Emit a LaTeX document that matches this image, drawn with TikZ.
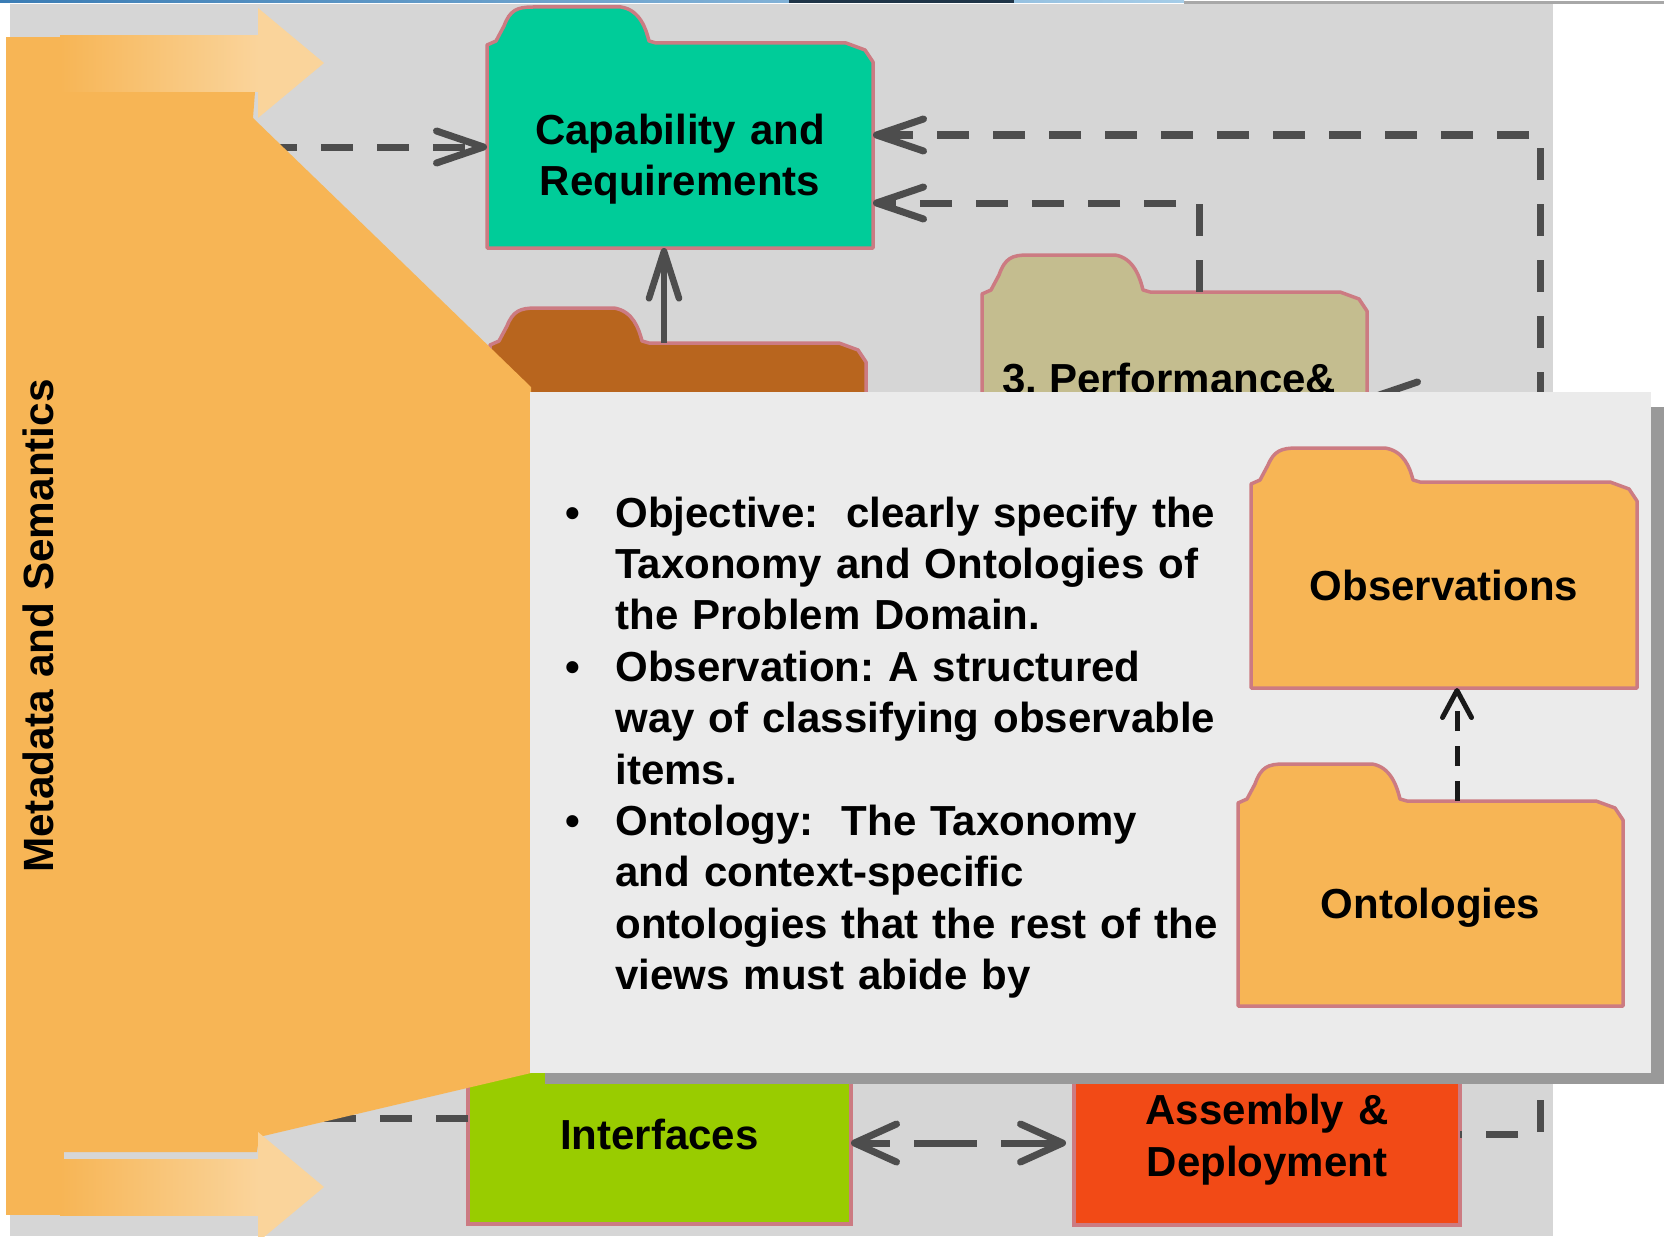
\documentclass[tikz,border=0pt]{standalone}
\usepackage{fontspec}
\setmainfont{Liberation Sans}
\usetikzlibrary{arrows.meta,calc}
\frenchspacing

\definecolor{bggray}{HTML}{D6D6D6}
\definecolor{panelgray}{HTML}{EBEBEB}
\definecolor{shadowgray}{HTML}{999999}
\definecolor{orng}{HTML}{F7B555}
\definecolor{orngl}{HTML}{FAD49B}
\definecolor{capteal}{HTML}{00CC99}
\definecolor{brownf}{HTML}{B8651E}
\definecolor{khakif}{HTML}{C4BD8F}
\definecolor{limef}{HTML}{99CC00}
\definecolor{redf}{HTML}{F24A16}
\definecolor{edgepink}{HTML}{CC7B82}
\definecolor{conngray}{HTML}{4D4D4D}
\definecolor{stripa}{HTML}{3B7DB5}
\definecolor{stripb}{HTML}{A6CDE8}
\definecolor{stripdark}{HTML}{1F3548}
\definecolor{stripgray}{HTML}{A8A8A8}

\newcommand{\lblfont}{\fontsize{21}{25.25}\selectfont\bfseries}
\newcommand{\asmfont}{\fontsize{21}{26.2}\selectfont\bfseries}
\newcommand{\bulletfont}{\fontsize{21}{25.7}\selectfont\bfseries}

% folder outline: #1 fill, #2 left x, #3 right x, #4 tab top y,
% #5 body top y, #6 bottom y, #7 tab right x
\newcommand{\folderoutline}[7]{%
  \draw[folderline, fill=#1] (#2,#6) -- (#2,{#5+2}) -- ({#2+9},{#5-2})
    -- ({#2+17},{#5-17})
    .. controls ({#2+23},{#4+3}) and ({#2+30},#4) .. ({#2+46},#4)
    -- ({#7-28},#4)
    .. controls ({#7-9},{#4+3}) and ({#7-3},{#5-14}) .. (#7,{#5-2})
    -- ({#7+7},#5) -- ({#3-27},#5) -- ({#3-8},{#5+7}) -- (#3,{#5+19})
    -- (#3,#6) -- cycle;}

\tikzset{
  folderline/.style={draw=edgepink, line width=1.75pt, line join=round},
  bodyref/.style={rectangle, inner sep=0pt, outer sep=0pt},
  plainbox/.style={rectangle, draw=edgepink, line width=1.75pt, inner sep=0pt,
    outer sep=0pt, font=\lblfont},
  lbl/.style={inner sep=0pt, font=\lblfont},
  conn/.style={draw=conngray, line width=3.5pt, dash pattern=on 16pt off 12pt},
  vtip/.style={-{Straight Barb[length=23.5pt,width=16pt,round]}},
  bitip/.style={{Straight Barb[length=21pt,width=19pt,round]}-{Straight Barb[length=21pt,width=19pt,round]}},
  solidconn/.style={draw=conngray, line width=3.3pt,
    -{Straight Barb[length=23.5pt,width=15pt,round]}},
  innerconn/.style={draw=black!90, line width=2.5pt, dash pattern=on 10pt off 7.5pt,
    -{Straight Barb[length=13.5pt,width=14.5pt,round]}},
}

\begin{document}
\begin{tikzpicture}[x=0.5pt,y=-0.5pt]
\useasboundingbox (0,0) rectangle (1664,1236);
\clip (0,0) rectangle (1664,1236);
\fill[white] (0,0) rectangle (1664,1236);

% thin strip along the top edge
\shade[left color=stripa, right color=stripb] (0,0) rectangle (1184,3);
\fill[stripdark] (789,0) rectangle (1014,3);
\fill[stripgray] (1184,1.5) rectangle (1664,4);

% grey canvas
\fill[bggray] (10,4) rectangle (1553,1236);

% folders of the upper layer
\folderoutline{capteal}{487}{873}{7}{43}{248}{649}
\node[bodyref, minimum width=193pt, minimum height=102.5pt] (cap) at (680,145.5) {};
\node[lbl, anchor=base, text width=190pt, align=center] (captxt) at (680,144.5)
  {Capability and\\Requirements};

\folderoutline{brownf}{490}{866}{308}{343}{460}{642}
\node[bodyref, minimum width=188pt, minimum height=58.5pt] (brn) at (678,401.5) {};

\folderoutline{khakif}{982}{1367}{255}{292}{460}{1143}
\node[bodyref, minimum width=192.5pt, minimum height=84pt] (perf) at (1174.5,376) {};
\node[lbl, anchor=base west] (perftxt) at (1002,393) {3. Performance\&};

% boxes of the lower layer
\node[plainbox, fill=limef, minimum width=191.5pt, minimum height=89.5pt] (intf)
  at (659.5,1134.5) {Interfaces};
\node[plainbox, fill=redf, minimum width=193pt, minimum height=90pt] (asm)
  at (1267,1135) {};
\node[inner sep=0pt, anchor=base, text width=190pt, align=center, font=\asmfont]
  (asmtxt) at (1267,1124) {Assembly \&\\Deployment};

% connectors
\coordinate (mdsrc) at (265,147);
\draw[conn, vtip] (mdsrc) -- (mdsrc -| cap.west);

\coordinate (rc1) at (1540,1134);
\coordinate (rc2) at (1540,135);
\draw[conn, vtip, dash phase=15pt] (asm.east |- rc1) -- (rc1) -- (rc2) -- (rc2 -| cap.east);

\coordinate (pc1) at (1199,203);
\draw[conn, vtip] (perf.north -| pc1) -- (pc1) -- (pc1 -| cap.east);

\coordinate (bup) at (664,248);
\draw[solidconn] (bup |- brn.north) -- (bup |- cap.south);

\coordinate (phid) at (1480,398);
\draw[conn, vtip] (phid) -- (phid -| perf.east);

\coordinate (ifl) at (280,1118);
\draw[conn] (ifl -| intf.west) -- (ifl);

\coordinate (bd) at (960,1143);
\draw[conn, bitip, dash pattern=on 31.5pt off 12pt, dash phase=15.5pt, shorten >=4pt]
  (bd -| intf.east) -- (bd -| asm.west);

% metadata band on the left
\fill[orng] (6,37) rectangle (64,1215);
\fill[orng] (62,92) -- (255,92) -- (253,118) -- (531,387) -- (531,1073)
  -- (259,1137) -- (257,1152) -- (62,1152) -- cycle;
\shade[left color=orng, right color=orngl] (60,36) rectangle (259,92);
\fill[orngl] (258,8) -- (324,63) -- (258,118) -- cycle;
\shade[left color=orng, right color=orngl] (60,1159) rectangle (259,1215);
\fill[orngl] (258,1132) -- (324,1187) -- (258,1242) -- cycle;
\node[rotate=90, anchor=base, inner sep=0pt,
  font=\fontsize{21.15}{25}\selectfont\bfseries] (mdtxt) at (53,626)
  {Metadata and Semantics};

% description panel with its shadow
\fill[shadowgray] (545,407) rectangle (1664,1084);
\node[rectangle, fill=panelgray, minimum width=560.5pt, minimum height=340.5pt,
  inner sep=0pt, outer sep=0pt] (panel) at (1090.5,732.5) {};

\node[anchor=base, inner sep=0pt, font=\bulletfont] (bul1) at (573,527) {\textbullet};
\node[anchor=base, inner sep=0pt, font=\bulletfont] (bul2) at (573,681.2) {\textbullet};
\node[anchor=base, inner sep=0pt, font=\bulletfont] (bul3) at (573,835.4) {\textbullet};
\node[anchor=base west, inner sep=0pt, text width=330pt, align=left, font=\bulletfont]
  (bullettext) at (615,527) {%
  Objective:\ \ clearly specify the\\
  Taxonomy and Ontologies of\\
  the Problem Domain.\\
  Observation: A structured\\
  way of classifying observable\\
  items.\\
  Ontology:\ \ The Taxonomy\\
  and context-specific\\
  ontologies that the rest of the\\
  views must abide by};

\folderoutline{orng}{1251}{1637}{448}{482}{688}{1413}
\node[bodyref, minimum width=193pt, minimum height=103pt, font=\lblfont] (obs)
  at (1444,585) {Observations};

\folderoutline{orng}{1238}{1623}{764}{801}{1006}{1400}
\node[bodyref, minimum width=192.5pt, minimum height=102.5pt, font=\lblfont,
  text depth=0pt] (ont) at (1430.5,903.5) {Ontologies};

\coordinate (oo) at (1457,700);
\draw[innerconn] (oo |- ont.north) -- (oo |- obs.south);
\end{tikzpicture}
\end{document}
